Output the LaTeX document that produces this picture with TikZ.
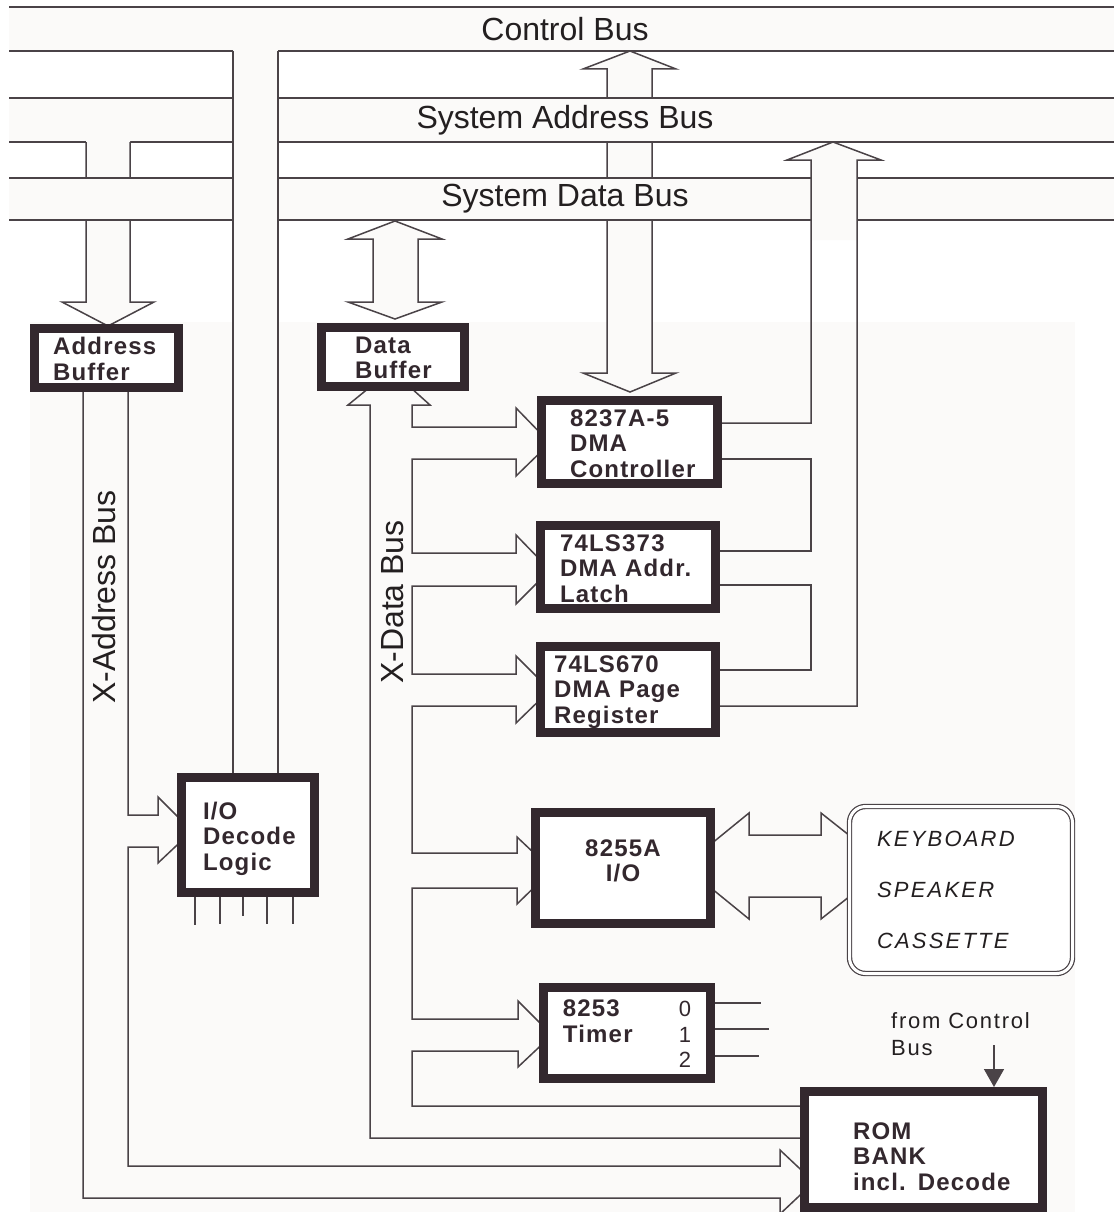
\documentclass[tikz,border=0pt]{standalone}
\usepackage{fontspec}
\setmainfont{Liberation Sans}
\usetikzlibrary{arrows.meta,calc}
\definecolor{busInk}{HTML}{4A4347}
\definecolor{chipInk}{HTML}{33282E}
\definecolor{busFill}{HTML}{FBFAF9}
\definecolor{labelInk}{HTML}{231F20}
\newcommand{\chipfont}{\fontsize{24}{25.5}\selectfont\bfseries\addfontfeature{LetterSpace=5}}
\newcommand{\periphfont}{\fontsize{22}{51}\selectfont\itshape\addfontfeature{LetterSpace=10}}
\newcommand{\notefont}{\fontsize{22}{27}\selectfont\addfontfeature{LetterSpace=8}}
\newcommand{\timernum}{\fontsize{22}{25.5}\selectfont\mdseries}
% chip label: column spec, vertical nudge, rows
\newcommand{\chiptext}[3][l]{\raisebox{#2}[\height][\depth]{\begin{tabular}{@{}#1@{}}#3\end{tabular}}}

\begin{document}
\begin{tikzpicture}[x=1pt,y=-1pt,
  wire/.style={draw=busInk,line width=1.5pt,line join=miter},
  band/.style={fill=busFill},
  chip/.style={draw=chipInk,line width=9pt,fill=white,text=chipInk,inner sep=0pt,
               font=\chipfont,align=left},
  buslabel/.style={font=\fontsize{32}{36}\selectfont,text=labelInk,inner sep=0pt}]
\useasboundingbox (0,0) rectangle (1114,1212);
\fill[white] (0,0) rectangle (1114,1212);
\fill[busFill] (30,322) rectangle (1075,1212);
% control bus
\fill[band] (9,7) rectangle (1114,51);
\draw[wire] (9,7) -- (1114,7) (9,51) -- (1114,51);
\node[buslabel] (cb) at (565,29) {Control Bus};
% DMA controller to control bus
\filldraw[wire,fill=busFill] (607,69) -- (583,69) -- (630,51) -- (676,69) -- (652,69)
  -- (652,373) -- (676,373) -- (630,392) -- (583,373) -- (607,373) -- cycle;
% system address bus
\fill[band] (9,98) rectangle (1114,142);
\draw[wire] (9,98) -- (1114,98) (9,142) -- (1114,142);
\node[buslabel] (sab) at (565,120) {System Address Bus};
% address bus down to the address buffer
\fill[busFill] (86,141) -- (86,302) -- (62,302) -- (108,326) -- (154,302) -- (130,302) -- (130,141) -- cycle;
\draw[wire] (86,142) -- (86,302) -- (62,302) -- (108,326) -- (154,302) -- (130,302) -- (130,142);
% system data bus
\fill[band] (9,178) rectangle (1114,220);
\draw[wire] (9,178) -- (1114,178) (9,220) -- (1114,220);
\node[buslabel] (sdb) at (565,199) {System Data Bus};
% control lines down to I/O decode
\fill[busFill] (233,50) rectangle (278,330);
\draw[wire] (233,51) -- (233,778) (278,51) -- (278,778);
% DMA address path up to the address bus
\fill[busFill] (811,240) -- (811,160) -- (787,160) -- (833,142) -- (881,160) -- (857,160) -- (857,240) -- cycle;
\draw[wire] (716,423) -- (811,423) -- (811,160) -- (787,160) -- (833,142) -- (881,160) -- (857,160)
  -- (857,706) -- (716,706);
\draw[wire] (716,459) -- (811,459) -- (811,551) -- (716,551);
\draw[wire] (716,585) -- (811,585) -- (811,670) -- (716,670);
% data bus <-> data buffer
\filldraw[wire,fill=busFill] (373,239) -- (348,239) -- (395,221) -- (442,239) -- (418,239)
  -- (418,302) -- (442,302) -- (395,319) -- (348,302) -- (373,302) -- cycle;
% X-data bus
\draw[wire] (391,370) -- (348,405) -- (370,405) -- (370,1138) -- (804,1138);
\draw[wire] (391,370) -- (430,405) -- (412,405)
  -- (412,427) -- (516,427) -- (516,408) -- (550,443) -- (516,476) -- (516,459) -- (412,459)
  -- (412,553) -- (516,553) -- (516,535) -- (550,570) -- (516,604) -- (516,586) -- (412,586)
  -- (412,674) -- (516,674) -- (516,656) -- (550,690) -- (516,723) -- (516,706) -- (412,706)
  -- (412,853) -- (517,853) -- (517,837) -- (552,870) -- (517,904) -- (517,888) -- (412,888)
  -- (412,1019) -- (518,1019) -- (518,1001) -- (552,1035) -- (518,1067) -- (518,1051) -- (412,1051)
  -- (412,1106) -- (804,1106);
\node[buslabel,rotate=90] (xdb) at (393,602) {X-Data Bus};
% X-address bus
\draw[wire] (83,388) -- (83,1198) -- (780,1198) -- (780,1214) -- (814,1182) -- (780,1150)
  -- (780,1166) -- (128,1166) -- (128,847) -- (158,847) -- (158,863) -- (192,831)
  -- (158,797) -- (158,815) -- (128,815) -- (128,388);
\node[buslabel,rotate=90] (xab) at (104,597) {X-Address Bus};
% 8255A <-> peripherals
\draw[wire] (684,866) -- (749,813) -- (749,835) -- (821,835) -- (821,813) -- (888,866)
  -- (821,919) -- (821,897) -- (749,897) -- (749,919) -- cycle;
% chips
\node[chip,minimum width=144pt,minimum height=59pt,text width=107pt] (abuf) at (106.5,358)
  {\chiptext{-4.5pt}{Address\\Buffer}};
\node[chip,minimum width=143pt,minimum height=59pt,text width=76pt] (dbuf) at (393,357)
  {\chiptext{-4pt}{Data\\Buffer}};
\node[chip,minimum width=176pt,minimum height=83pt,text width=119pt] (dma) at (629.5,442)
  {\chiptext{-4.5pt}{8237A-5\\DMA\\Controller}};
\node[chip,minimum width=175pt,minimum height=83pt,text width=136pt] (latch) at (628,567)
  {\chiptext{-4.5pt}{74LS373\\DMA Addr.\\Latch}};
\node[chip,minimum width=175pt,minimum height=86pt,text width=148pt] (page) at (628,689.5)
  {\chiptext{-3pt}{74LS670\\DMA Page\\Register}};
\node[chip,minimum width=175pt,minimum height=111pt,align=center] (ppi) at (623,868)
  {\chiptext[c]{4pt}{8255A\\I/O}};
\node[chip,minimum width=167pt,minimum height=91pt,align=center] (pit) at (627,1033)
  {\chiptext[p{116pt}@{}r]{-4pt}{8253 & \timernum 0\\ Timer & \timernum 1\\ & \timernum 2}};
\node[chip,minimum width=133pt,minimum height=115pt,text width=90pt] (io) at (248,835)
  {\chiptext{-4.5pt}{I/O\\Decode\\Logic}};
\node[chip,minimum width=238pt,minimum height=116pt,text width=141pt] (rom) at (923.5,1149.5)
  {\chiptext{-10pt}{ROM\\BANK\\incl. Decode}};
\node[draw=busInk,double=white,double distance=3pt,line width=1.2pt,rounded corners=16pt,fill=white,
  minimum width=223pt,minimum height=167pt,inner sep=0pt,text width=168pt,align=left,
  font=\periphfont,text=labelInk] (periph) at (961,890) {KEYBOARD\\SPEAKER\\CASSETTE};
% timer outputs and decode pins
\foreach \yy/\len in {1003/46,1029/54,1056/44}
  \draw[wire] (pit.east |- 0,\yy) -- ++(\len,0);
\foreach \xx/\yy in {195/925,220/924,243/916,267/924,293/924}
  \draw[wire] (io.south -| \xx,0) -- (\xx,\yy);
% ROM select from the control bus
\node[font=\notefont,text=labelInk,anchor=north west,align=left,inner sep=0pt] (ctlnote) at (891,1012) {from Control\\Bus};
\coordinate (ctl) at (994,1045);
\draw[busInk,line width=1.6pt,-{Triangle[width=20pt,length=18pt]}] (ctl) -- (ctl |- rom.north);
\end{tikzpicture}
\end{document}
